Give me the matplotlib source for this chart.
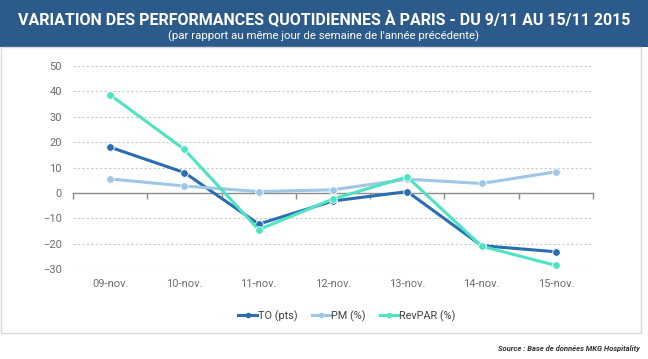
import numpy as np
import matplotlib.pyplot as plt
from matplotlib.patches import Rectangle
from matplotlib.lines import Line2D

# Données
jours = ['09-nov.', '10-nov.', '11-nov.', '12-nov.', '13-nov.', '14-nov.', '15-nov.']
to_pts = [18.0, 8.0, -12.3, -3.2, 0.5, -20.8, -23.2]
pm_pct = [5.5, 2.7, 0.5, 1.2, 5.4, 3.7, 8.3]
revpar_pct = [38.6, 17.1, -14.5, -2.4, 6.3, -21.0, -28.6]
y_ticks = [-30, -20, -10, 0, 10, 20, 30, 40, 50]

c_to = '#2A6DB0'
c_pm = '#9DC6E8'
c_rev = '#4DE3C3'
c_band = '#2C5A8A'
c_txt = '#6E6E6E'

plt.rcParams['font.family'] = ['Roboto', 'DejaVu Sans']

fig = plt.figure(figsize=(6.48, 3.59), dpi=100)

# bandeau du titre
fig.patches.append(Rectangle((0, 1 - 47 / 359), 1, 47 / 359, transform=fig.transFigure,
                             facecolor=c_band, edgecolor='none', zorder=0))
# cadre du graphique
fig.patches.append(Rectangle((0.5 / 648, 1 - 333 / 359), 640 / 648, (333 - 47) / 359,
                             transform=fig.transFigure, facecolor='white',
                             edgecolor='#DADADA', linewidth=1, zorder=0))

fig.text(0.5, 1 - 19 / 359, 'VARIATION DES PERFORMANCES QUOTIDIENNES À PARIS - DU 9/11 AU 15/11 2015',
         ha='center', va='center', color='white', fontsize=11.5, fontweight='bold')
fig.text(0.5, 1 - 36 / 359, "(par rapport au même jour de semaine de l'année précédente)",
         ha='center', va='center', color='white', fontsize=8.2)

ax = fig.add_axes([73 / 648, 1 - 269 / 359, 520 / 648, 203 / 359])
ax.set_zorder(2)
ax.patch.set_visible(False)
x = np.arange(len(jours))

for vals, col, lab in [(to_pts, c_to, 'TO (pts)'), (pm_pct, c_pm, 'PM (%)'),
                       (revpar_pct, c_rev, 'RevPAR (%)')]:
    ax.plot(x, vals, color=col, linewidth=2.2, marker='o', markersize=5.5,
            markeredgecolor='white', markeredgewidth=0.6, label=lab, zorder=3)

ax.set_xlim(-0.5, len(jours) - 0.5)
ax.set_ylim(-30, 50)
ax.set_yticks(y_ticks)
ax.tick_params(axis='y', length=0, labelsize=8, labelcolor=c_txt, pad=8)
for t in y_ticks:
    if t != 0:
        ax.axhline(t, color='#C8C8C8', linewidth=0.8, linestyle=(0, (2, 2)), zorder=1)

for s in ['top', 'right', 'left']:
    ax.spines[s].set_visible(False)
ax.spines['bottom'].set_position(('data', 0))
ax.spines['bottom'].set_color('#8C8C8C')
ax.spines['bottom'].set_linewidth(1)
ax.set_xticks(np.arange(-0.5, len(jours), 1.0))
ax.set_xticklabels([])
ax.tick_params(axis='x', direction='out', length=4, color='#8C8C8C', width=1)

for i, j in enumerate(jours):
    ax.text(i, -0.075, j, transform=ax.get_xaxis_transform(), ha='center', va='center',
            fontsize=8, color=c_txt)

handles = [Line2D([0], [0], color=c, linewidth=2.2, marker='o', markersize=3,
                  markeredgecolor=c) for c in (c_to, c_pm, c_rev)]
leg = fig.legend(handles, ['TO (pts)', 'PM (%)', 'RevPAR (%)'], loc='center',
                 bbox_to_anchor=(347 / 648, 1 - 316 / 359), ncol=3, frameon=False,
                 fontsize=7.8, handlelength=1.7, handletextpad=0.1, columnspacing=1.3,
                 labelcolor='#404040')
leg.set_zorder(3)

fig.text(640 / 648, 1 - 348 / 359, 'Source : Base de données MKG Hospitality',
         ha='right', va='center', fontsize=5.5, fontstyle='italic', fontweight='bold',
         color='#333333')

fig.savefig('out.png', dpi=100)
